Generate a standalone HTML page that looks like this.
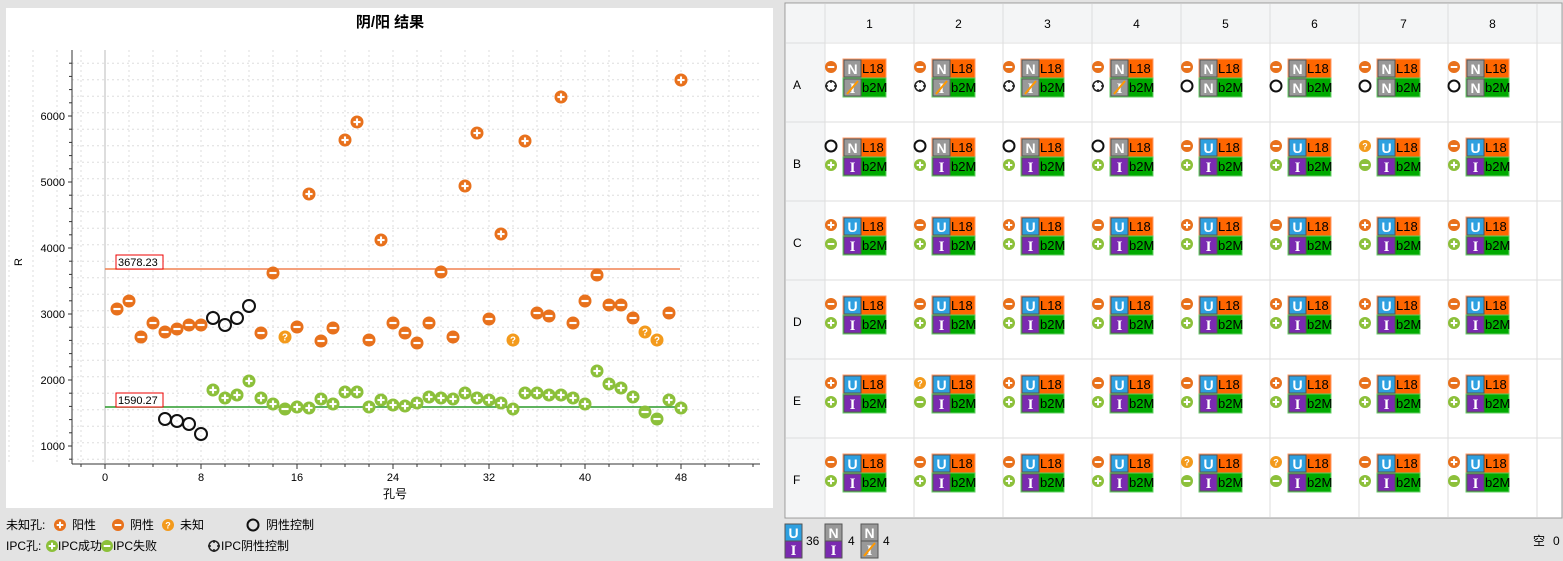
<!DOCTYPE html><html><head><meta charset="utf-8"><style>
body{margin:0;width:1563px;height:561px;background:#e3e3e3;font-family:"Liberation Sans","Noto Sans CJK SC",sans-serif;overflow:hidden;position:relative}
</style></head><body>
<svg id="s" width="1563" height="561" style="position:absolute;left:0;top:0" font-family="Liberation Sans, Noto Sans CJK SC, sans-serif"></svg>
<script>
(function(){
var h='';
function r(x,y,w,hh,f,st){h+=`<rect x="${x}" y="${y}" width="${w}" height="${hh}" fill="${f}" ${st?'stroke="'+st+'"':''}/>`}
function t(x,y,s,sz,a,extra){h+=`<text x="${x}" y="${y}" font-size="${sz}" text-anchor="${a||'start'}" ${extra||''}>${s}</text>`}
function ic(x,y,type,R){R=R||6;var c=type.indexOf('g')==0?'#8cc03a':(type=='unk'?'#f39a1c':'#e8711c');
 if(type=='circ'){h+=`<circle cx="${x}" cy="${y}" r="${R-0.5}" fill="none" stroke="#111" stroke-width="2"/>`;return}
 if(type=='cross'){h+=`<circle cx="${x}" cy="${y}" r="${R-1}" fill="none" stroke="#222" stroke-width="1.5"/><path d="M${x-R} ${y}h3M${x+R} ${y}h-3M${x} ${y-R}v3M${x} ${y+R}v-3" stroke="#222" stroke-width="1.5"/>`;return}
 h+=`<circle cx="${x}" cy="${y}" r="${R}" fill="${c}"/>`;var a=R*0.55,w=R*0.33;
 if(type=='neg'||type=='gneg')h+=`<rect x="${x-a}" y="${y-w/2}" width="${2*a}" height="${w}" fill="#fff"/>`;
 else if(type=='pos'||type=='gpos')h+=`<rect x="${x-a}" y="${y-w/2}" width="${2*a}" height="${w}" fill="#fff"/><rect x="${x-w/2}" y="${y-a}" width="${w}" height="${2*a}" fill="#fff"/>`;
 else h+=`<text x="${x}" y="${y+3.5}" font-size="${R*1.5}" fill="#fff" text-anchor="middle" font-weight="bold">?</text>`;}
r(6,8,767,500,'#fff');
t(390,27,'阴/阳 结果',15,'middle','font-weight="bold"');
var X=function(v){return 105+v*12},Y=function(v){return 446-(v-1000)*0.066};
for(var i=-8;i<=52;i+=2){h+=`<line x1="${X(i)}" y1="50" x2="${X(i)}" y2="463" stroke="#ddd" stroke-dasharray="2,3"/>`}
for(var v=800;v<=6900;v+=250){h+=`<line x1="72" y1="${Y(v)}" x2="760" y2="${Y(v)}" stroke="#ddd" stroke-dasharray="2,3"/>`}
h+=`<line x1="105" y1="50" x2="105" y2="463" stroke="#bbb"/><line x1="72" y1="50" x2="72" y2="464" stroke="#333"/><line x1="72" y1="464" x2="760" y2="464" stroke="#333"/>`;
for(var v=1000;v<=6000;v+=1000){h+=`<line x1="68" y1="${Y(v)}" x2="72" y2="${Y(v)}" stroke="#333"/>`;t(65,Y(v)+4,v,11,'end')}
for(var v=800;v<=6900;v+=200)h+=`<line x1="69" y1="${Y(v)}" x2="72" y2="${Y(v)}" stroke="#333"/>`;
for(var i=-2;i<=54;i+=2)h+=`<line x1="${X(i)}" y1="464" x2="${X(i)}" y2="${i%8==0?469:467}" stroke="#333"/>`;
for(var i=0;i<=48;i+=8)t(X(i),481,i,11,'middle');
t(395,498,'孔号',12,'middle');t(22,262,'R',11,'middle','transform="rotate(-90 22 262)"');
h+=`<line x1="105" y1="269" x2="680" y2="269" stroke="#f08050" stroke-width="1.5"/><line x1="105" y1="407" x2="680" y2="407" stroke="#2a9a2a" stroke-width="1.5"/>`;
r(116,255,47,14,'#fff','#e00');t(118,266,'3678.23',11);r(116,393,47,14,'#fff','#e00');t(118,404,'1590.27',11);
var O=[[1,309,'neg'],[2,301,'neg'],[3,337,'neg'],[4,323,'neg'],[5,332,'neg'],[6,329,'neg'],[7,325,'neg'],[8,325,'neg'],[9,318,'circ'],[10,325,'circ'],[11,318,'circ'],[12,306,'circ'],[13,333,'neg'],[14,273,'neg'],[15,337,'unk'],[16,327,'neg'],[17,194,'pos'],[18,341,'neg'],[19,328,'neg'],[20,140,'pos'],[21,122,'pos'],[22,340,'neg'],[23,240,'pos'],[24,323,'neg'],[25,333,'neg'],[26,343,'neg'],[27,323,'neg'],[28,272,'neg'],[29,337,'neg'],[30,186,'pos'],[31,133,'pos'],[32,319,'neg'],[33,234,'pos'],[34,340,'unk'],[35,141,'pos'],[36,313,'neg'],[37,316,'neg'],[38,97,'pos'],[39,323,'neg'],[40,301,'neg'],[41,275,'neg'],[42,305,'neg'],[43,305,'neg'],[44,318,'neg'],[45,332,'unk'],[46,340,'unk'],[47,313,'neg'],[48,80,'pos'],
[5,419,'circ'],[6,421,'circ'],[7,424,'circ'],[8,434,'circ']];
var G=[390,398,395,381,398,404,409,407,408,399,404,392,392,407,400,405,406,403,397,398,399,393,398,400,403,409,393,393,395,395,398,404,371,384,388,397,412,419,400,408];
G.forEach(function(y,i){O.push([i+9,y,(i+9==15||i+9==45||i+9==46)?'gneg':'gpos'])});
O.forEach(function(p){ic(X(p[0]),p[1],p[2],6.5)});
t(6,529,'未知孔:',12);ic(60,525,'pos',6);t(72,529,'阳性',12);ic(118,525,'neg',6);t(130,529,'阴性',12);ic(168,525,'unk',6);t(180,529,'未知',12);ic(253,525,'circ',6);t(266,529,'阴性控制',12);
t(6,550,'IPC孔:',12);ic(52,546,'gpos',6);t(58,550,'IPC成功',12);ic(107,546,'gneg',6);t(113,550,'IPC失败',12);ic(214,546,'cross',6);t(221,550,'IPC阴性控制',12);
r(785,3,777,515,'#fff','#999');r(786,4,775,38,'#f4f5f6');r(786,4,39,513,'#f4f5f6');
var cw=89,x0=825;
for(var c=0;c<9;c++)h+=`<line x1="${x0+c*cw}" y1="4" x2="${x0+c*cw}" y2="517" stroke="#ddd"/>`;
for(var c=1;c<=8;c++)t(x0+(c-.5)*cw,28,c,12,'middle');
var rows='ABCDEF';
var tops=[['neg','neg','neg','neg','neg','neg','neg','neg'],['circ','circ','circ','circ','neg','neg','unk','neg'],['pos','neg','pos','neg','pos','neg','pos','neg'],['neg','neg','neg','neg','neg','pos','pos','neg'],['pos','unk','pos','neg','neg','pos','neg','neg'],['neg','neg','neg','neg','unk','unk','neg','pos']];
var bots=[['cross','cross','cross','cross','circ','circ','circ','circ'],['gpos','gpos','gpos','gpos','gpos','gpos','gneg','gpos'],['gneg','gpos','gpos','gpos','gpos','gpos','gpos','gpos'],['gpos','gpos','gpos','gpos','gpos','gpos','gpos','gpos'],['gpos','gneg','gpos','gpos','gpos','gpos','gpos','gpos'],['gpos','gpos','gpos','gpos','gneg','gneg','gpos','gneg']];
function lb(x,y,L,bg){r(x,y,17,17,bg,'#555');if(L=='S'){h+=`<text x="${x+8.5}" y="${y+14}" font-size="15" font-weight="bold" font-family="Liberation Serif, serif" fill="#fff" text-anchor="middle">I</text><line x1="${x+3}" y1="${y+15}" x2="${x+14}" y2="${y+2}" stroke="#f90" stroke-width="2"/>`}else if(L=='I'){h+=`<text x="${x+8.5}" y="${y+14}" font-size="15" font-weight="bold" font-family="Liberation Serif, serif" fill="#fff" text-anchor="middle">I</text>`}else h+=`<text x="${x+8.5}" y="${y+14}" font-size="14" font-weight="bold" fill="#fff" text-anchor="middle">${L}</text>`}
for(var ri=0;ri<6;ri++){var y0=43+ri*79;h+=`<line x1="786" y1="${y0}" x2="1561" y2="${y0}" stroke="#ddd"/>`;t(793,y0+46,rows[ri],12);
 for(var c=0;c<8;c++){var cx=x0+c*cw;ic(cx+6,y0+24,tops[ri][c],6);ic(cx+6,y0+43,bots[ri][c],6);
  r(cx+18,y0+16,43,19,'#f60','#f96');r(cx+18,y0+35,43,19,'#0a0','#6c6');
  var u=ri>=2||(ri==1&&c>=4);lb(cx+19,y0+17,u?'U':'N',u?'#2ea0e0':'#999');
  var bl=ri==0?(c<4?'S':'N'):'I';lb(cx+19,y0+36,bl,bl=='I'?'#7a2ab0':'#999');
  t(cx+37,y0+30,'L18',13);t(cx+37,y0+49,'b2M',13);}}
lb(785,524,'U','#2ea0e0');lb(785,541,'I','#7a2ab0');t(806,545,'36',12);
lb(825,524,'N','#999');lb(825,541,'I','#7a2ab0');t(848,545,'4',12);
lb(861,524,'N','#999');lb(861,541,'S','#999');t(883,545,'4',12);
t(1533,545,'空',12);t(1553,545,'0',12);
document.getElementById('s').innerHTML=h;
})();
</script></body></html>
